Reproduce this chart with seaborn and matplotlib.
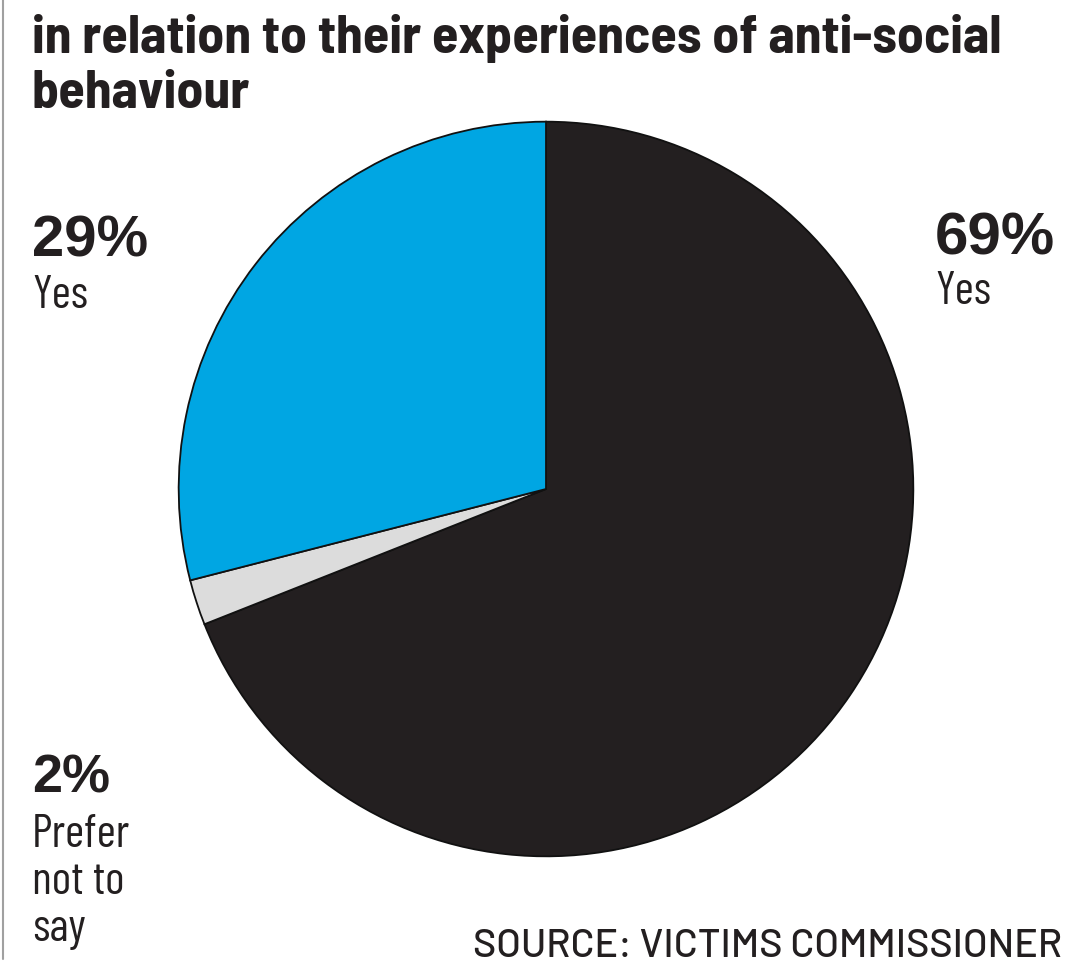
import matplotlib
matplotlib.use("Agg")
import matplotlib.pyplot as plt
from matplotlib.lines import Line2D
import seaborn as sns

sns.set_theme(style="white")
SEMI = ['Barlow Semi Condensed', 'Roboto Condensed', 'DejaVu Sans']
COND = ['Barlow Condensed', 'Roboto Condensed', 'DejaVu Sans']
WIDE = ['Barlow', 'Roboto', 'DejaVu Sans']
BOLD = ['Liberation Sans', 'Arimo', 'DejaVu Sans']
plt.rcParams['font.family'] = SEMI

categories = ["Yes", "Prefer not to say", "Yes"]
values = [69, 2, 29]
pct_labels = ["69%", "2%", "29%"]
colors = ["#231f20", "#dcdcdc", "#00a6e3"]
title_lines = ["in relation to their experiences of anti-social", "behaviour"]
source = "SOURCE: VICTIMS COMMISSIONER"

W, H = 1075, 970
fig = plt.figure(figsize=(W / 100, H / 100), dpi=100)
fig.patch.set_facecolor("white")
renderer = fig.canvas.get_renderer()

cx, cy, r = 546, 490, 371
ax = fig.add_axes([(cx - r) / W, (H - cy - r) / H, 2 * r / W, 2 * r / H])
ax.pie(values, colors=colors, startangle=90, counterclock=False,
       radius=1, wedgeprops=dict(edgecolor="#111111", linewidth=1.3))
ax.set_xlim(-1.01, 1.01)
ax.set_ylim(-1.01, 1.01)
ax.set_aspect("equal")
ax.axis("off")

# Left border line
fig.add_artist(Line2D([3 / W, 3 / W], [0.01, 1.0], color="#a0a0a0", lw=1.5))


def put(x, y, s, width=None, size=30, ha="left", **kw):
    t = fig.text(x / W, 1 - y / H, s, fontsize=size, ha=ha, va="baseline",
                 color="#231f20", **kw)
    if width is not None:
        w = t.get_window_extent(renderer).width
        t.set_fontsize(size * width / w)
    return t


t1 = put(32, 53, title_lines[0], width=970, size=38, fontweight="bold")
put(32, 108, title_lines[1], size=t1.get_fontsize(), fontweight="bold")

ty = put(32, 308, "Yes", width=56, size=32, family=COND)
fs_lab = ty.get_fontsize()
put(32, 257, pct_labels[2], width=116, size=40, fontweight="bold", family=BOLD)
put(935, 255, pct_labels[0], width=120, size=40, fontweight="bold", family=BOLD)
put(935, 304, "Yes", size=fs_lab, family=COND)
put(32, 793, pct_labels[1], width=78, size=40, fontweight="bold", family=BOLD)
for i, line in enumerate(["Prefer", "not to", "say"]):
    put(32, 847 + 47 * i, line, size=fs_lab, family=COND)

put(1062, 957, source, width=590, size=26, ha="right", family=WIDE,
    fontweight="medium")

fig.savefig("out.png", dpi=100, facecolor="white")
